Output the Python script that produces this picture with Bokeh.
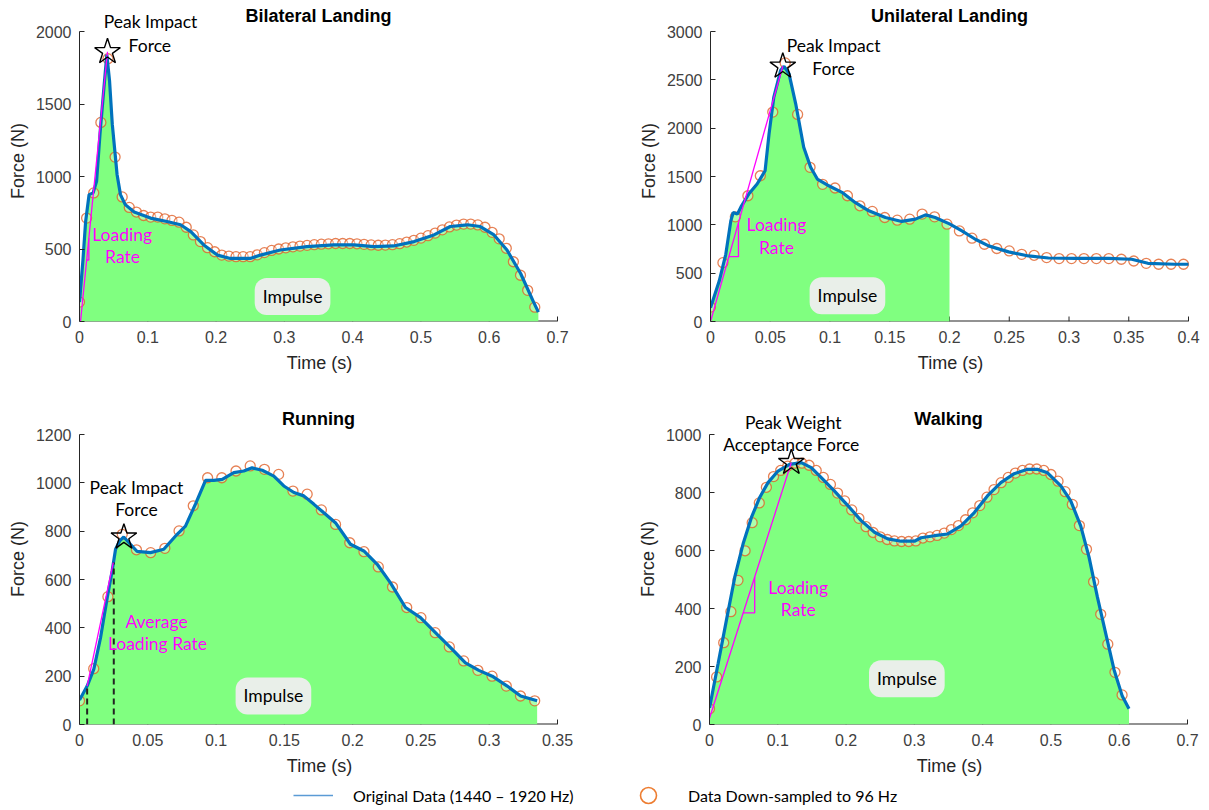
import numpy as np
from bokeh.plotting import figure
from bokeh.models import Range1d, FixedTicker, Label, Legend, LegendItem, PrintfTickFormatter
from bokeh.layouts import column, row
from bokeh.embed import file_html
from bokeh.resources import INLINE

# ---------------- data ----------------
# sample instants of the 96 Hz down-sampled data (s)
sample_times_96hz = [0.0, 0.0104, 0.0208, 0.0313, 0.0417, 0.0521, 0.0625, 0.0729, 0.0833, 0.0938,
                     0.1042, 0.1146, 0.125, 0.1354, 0.1458, 0.1563, 0.1667, 0.1771, 0.1875, 0.1979,
                     0.2083, 0.2188, 0.2292, 0.2396, 0.25, 0.2604, 0.2708, 0.2813, 0.2917, 0.3021,
                     0.3125, 0.3229, 0.3333, 0.3438, 0.3542, 0.3646, 0.375, 0.3854, 0.3958, 0.4063,
                     0.4167, 0.4271, 0.4375, 0.4479, 0.4583, 0.4688, 0.4792, 0.4896, 0.5, 0.5104,
                     0.5208, 0.5313, 0.5417, 0.5521, 0.5625, 0.5729, 0.5833, 0.5938, 0.6042, 0.6146,
                     0.625, 0.6354, 0.6458, 0.6563, 0.6667]

# Bilateral landing
bilateral_time = [0.000, 0.005, 0.009, 0.014, 0.020, 0.025, 0.030, 0.035, 0.040, 0.044,
                  0.048, 0.055, 0.060, 0.067, 0.080, 0.104, 0.128, 0.148, 0.163, 0.182,
                  0.202, 0.221, 0.250, 0.265, 0.294, 0.333, 0.372, 0.402, 0.431, 0.460,
                  0.490, 0.519, 0.543, 0.568, 0.587, 0.607, 0.626, 0.646, 0.665, 0.672]
bilateral_force = [134, 420, 690, 875, 887, 967, 1292, 1569, 1840, 1660,
                   1361, 1014, 875, 806, 755, 713, 690, 667, 620, 528,
                   458, 435, 435, 458, 493, 516, 528, 528, 516, 521,
                   551, 597, 655, 667, 655, 597, 493, 331, 134, 65]
bilateral_samples = [134, 713, 887, 1373, 1812, 1134, 859, 787, 755, 731,
                     720, 720, 708, 697, 685, 650, 597, 551, 509, 481,
                     458, 451, 447, 447, 447, 460, 475, 490, 500, 508,
                     515, 520, 525, 530, 533, 536, 538, 538, 538, 536,
                     532, 528, 526, 527, 530, 537, 548, 560, 575, 592,
                     610, 632, 652, 665, 672, 672, 666, 650, 615, 570,
                     505, 412, 319, 215, 99]

# Unilateral landing
unilateral_time = [0.000, 0.0073, 0.0128, 0.017, 0.019, 0.0225, 0.026, 0.032, 0.039, 0.0457,
                   0.049, 0.053, 0.0587, 0.0615, 0.0657, 0.0713, 0.078, 0.0838, 0.0894, 0.099,
                   0.110, 0.121, 0.1325, 0.1464, 0.160, 0.1715, 0.180, 0.188, 0.200, 0.2104,
                   0.2216, 0.2327, 0.2494, 0.2661, 0.2828, 0.305, 0.333, 0.3524, 0.366, 0.3886,
                   0.400]
unilateral_force = [142, 418, 695, 1041, 1128, 1111, 1197, 1318, 1422, 1560,
                    1941, 2322, 2598, 2640, 2564, 2252, 1803, 1595, 1474, 1404,
                    1336, 1232, 1145, 1076, 1035, 1059, 1103, 1076, 1010, 937,
                    851, 782, 720, 678, 657, 654, 654, 644, 602, 592,
                    592]
unilateral_samples = [149, 609, 1083, 1301, 1508, 2166, 2675, 2142, 1595, 1419,
                      1381, 1301, 1197, 1139, 1076, 1048, 1059, 1111, 1083, 1007,
                      937, 862, 799, 755, 730, 695, 685, 661, 651, 651,
                      651, 651, 651, 644, 626, 602, 592, 592, 592]
unilateral_impulse_end = 0.2

# Running
running_time = [0.000, 0.0056, 0.0105, 0.0154, 0.0203, 0.0239, 0.0264, 0.0295, 0.0324, 0.0361,
                0.0422, 0.052, 0.0617, 0.0715, 0.0776, 0.0849, 0.0923, 0.0984, 0.1045, 0.113,
                0.1203, 0.1264, 0.1338, 0.1423, 0.1496, 0.157, 0.1642, 0.1715, 0.1789, 0.1874,
                0.1984, 0.2082, 0.218, 0.2277, 0.2387, 0.2497, 0.2619, 0.2717, 0.2826, 0.2924,
                0.3022, 0.3132, 0.323, 0.3351]
running_force = [101, 159, 229, 359, 525, 635, 725, 760, 776, 753,
                 716, 711, 725, 787, 821, 912, 1010, 1010, 1014, 1042,
                 1049, 1062, 1052, 1028, 987, 960, 946, 912, 876, 835,
                 746, 718, 663, 586, 484, 442, 373, 318, 255, 224,
                 200, 159, 118, 98]
running_samples = [98, 231, 529, 787, 723, 711, 729, 801, 905, 1021,
                   1021, 1049, 1070, 1056, 1035, 966, 953, 888, 828, 752,
                   715, 652, 569, 484, 442, 380, 321, 263, 224, 200,
                   159, 118, 98]
running_dash_time = [0.0056, 0.0251]
running_dash_force = [159, 670]

# Walking
walking_time = [0.000, 0.0127, 0.0248, 0.037, 0.0492, 0.0614, 0.0735, 0.0857, 0.1003, 0.1173,
                0.1344, 0.149, 0.1637, 0.1831, 0.2026, 0.2221, 0.2416, 0.2611, 0.2806, 0.300,
                0.3098, 0.3293, 0.3488, 0.3683, 0.3878, 0.4073, 0.4267, 0.4462, 0.4657, 0.480,
                0.495, 0.5145, 0.529, 0.5436, 0.5558, 0.568, 0.5802, 0.5924, 0.6046, 0.6143]
walking_force = [57, 211, 360, 508, 623, 714, 783, 834, 874, 897,
                 903, 886, 851, 805, 755, 703, 663, 640, 632, 632,
                 644, 651, 657, 685, 731, 789, 834, 865, 880, 880,
                 868, 823, 771, 685, 577, 440, 314, 189, 97, 54]
walking_samples = [54, 164, 282, 389, 497, 599, 696, 764, 818, 855,
                   876, 891, 901, 901, 894, 876, 852, 828, 798, 771,
                   740, 711, 682, 662, 647, 638, 633, 631, 631, 633,
                   643, 647, 652, 660, 672, 686, 706, 730, 755, 784,
                   810, 834, 852, 867, 876, 881, 881, 876, 862, 839,
                   803, 759, 686, 604, 492, 380, 277, 180, 102]

# axis ticks
ticks_x_07 = [0, 0.1, 0.2, 0.3, 0.4, 0.5, 0.6, 0.7]
ticks_x_04 = [0, 0.05, 0.1, 0.15, 0.2, 0.25, 0.3, 0.35, 0.4]
ticks_x_035 = [0, 0.05, 0.1, 0.15, 0.2, 0.25, 0.3, 0.35]
ticks_y_2000 = [0, 500, 1000, 1500, 2000]
ticks_y_3000 = [0, 500, 1000, 1500, 2000, 2500, 3000]
ticks_y_1200 = [0, 200, 400, 600, 800, 1000, 1200]
ticks_y_1000 = [0, 200, 400, 600, 800, 1000]

# ---------------- style ----------------
BLUE = "#0072BD"
ORANGE = "#E0622A"
GREEN = "#80FF80"
MAGENTA = "#FF00FF"
AX = "#262626"
TICK_FONT = "Liberation Sans"
NOTE_FONT = "Lato"
AXIS_PX = 290      # pixel length of the y axis (0 .. top tick)
XAXIS_PX = 478     # pixel length of the x axis


def make_panel(title, x_end, x_ticks, y_top, y_ticks, width, height, left, frame_px):
    y_end = y_top * frame_px / AXIS_PX          # frame reaches up to the top of the figure
    x_range_end = x_end * (XAXIS_PX + 2) / XAXIS_PX
    bottom = height - frame_px
    right = width - left - (XAXIS_PX + 2)
    p = figure(width=width, height=height, x_range=Range1d(0, x_range_end), y_range=Range1d(0, y_end),
               output_backend="svg", toolbar_location=None,
               min_border_left=left, min_border_right=right,
               min_border_top=0, min_border_bottom=bottom)
    p.outline_line_color = None
    p.grid.visible = False
    p.background_fill_color = "white"
    p.border_fill_color = "white"
    for ax in (p.xaxis[0], p.yaxis[0]):
        ax.major_tick_in = 5
        ax.major_tick_out = 0
        ax.minor_tick_line_color = None
        ax.axis_line_color = AX
        ax.major_tick_line_color = AX
        ax.major_label_text_font = TICK_FONT
        ax.major_label_text_font_size = "16px"
        ax.major_label_text_color = "#404040"
        ax.axis_label_text_font = TICK_FONT
        ax.axis_label_text_font_size = "18px"
        ax.axis_label_text_font_style = "normal"
        ax.axis_label_text_color = AX
        ax.formatter = PrintfTickFormatter(format="%g")
    p.xaxis.ticker = FixedTicker(ticks=x_ticks)
    p.yaxis.ticker = FixedTicker(ticks=y_ticks)
    p.yaxis.bounds = (0, y_top)
    p.xaxis.axis_label = "Time (s)"
    p.yaxis.axis_label = "Force (N)"
    p.xaxis.major_label_standoff = 9
    p.yaxis.major_label_standoff = 8
    p.xaxis.axis_label_standoff = 7
    p.yaxis.axis_label_standoff = 5
    # the bottom axis line and its inward ticks lie beneath the impulse area
    p.xaxis.axis_line_color = None
    p.xaxis.major_tick_line_color = None
    tick_len = 5 * y_end / frame_px
    p.segment(x0=[0], y0=[0], x1=[x_end], y1=[0], line_color=AX, line_width=2)
    p.segment(x0=x_ticks, y0=[0] * len(x_ticks), x1=x_ticks, y1=[tick_len] * len(x_ticks),
              line_color=AX, line_width=1)
    p.add_layout(Label(x=x_end / 2, y=y_top, y_offset=16, text=title, text_align="center",
                       text_baseline="middle", text_font=TICK_FONT, text_font_style="bold",
                       text_font_size="18px", text_color="black"))
    return p


def draw_series(p, t, f, samples, fill_end=None):
    t = np.asarray(t, dtype=float)
    f = np.asarray(f, dtype=float)
    if fill_end is None:
        mask = np.ones_like(t, dtype=bool)
    else:
        mask = t <= fill_end + 1e-9
    p.varea(x=t[mask], y1=np.zeros(mask.sum()), y2=f[mask], fill_color=GREEN, fill_alpha=1.0)
    st = sample_times_96hz[:len(samples)]
    p.scatter(st, samples, marker="circle", size=10, line_color=ORANGE, line_width=1.3,
              line_alpha=0.8, fill_color="white", fill_alpha=0.35)
    p.line(t, f, line_color=BLUE, line_width=3.2)


def note(p, x, y, text, color="black", size="17.5px"):
    p.add_layout(Label(x=x, y=y, text=text, text_align="center", text_baseline="middle",
                       text_font=NOTE_FONT, text_font_size=size, text_color=color))


def impulse(p, x, y):
    p.add_layout(Label(x=x, y=y, text="Impulse", text_align="center", text_baseline="middle",
                       text_font=NOTE_FONT, text_font_size="17.5px", text_color="black",
                       background_fill_color="#eeeeee", background_fill_alpha=0.95,
                       border_line_alpha=0, padding=8, border_radius=12))


def star(p, x, y):
    p.scatter([x], [y], marker="star", size=27, fill_alpha=0, line_color="black", line_width=1.4)


def loading_rate(p, start, peak, f_leg, t_leg):
    (t0, f0), (t1, f1) = start, peak
    slope = (f1 - f0) / (t1 - t0)
    p.line([t0, t1], [f0, f1], line_color=MAGENTA, line_width=1.3)
    ta = t0 + (f_leg - f0) / slope
    fb = f0 + (t_leg - t0) * slope
    p.line([ta, t_leg, t_leg], [f_leg, f_leg, fb], line_color=MAGENTA, line_width=1.3)


p1 = make_panel("Bilateral Landing", 0.7, ticks_x_07, 2000, ticks_y_2000, 604, 393, 79, 321)
draw_series(p1, bilateral_time, bilateral_force, bilateral_samples)
loading_rate(p1, (0.0015, 0), (0.041, 1860), 424, 0.0137)
star(p1, 0.041, 1860)
note(p1, 0.104, 2071, "Peak Impact")
note(p1, 0.103, 1906, "Force")
note(p1, 0.0625, 599, "Loading", MAGENTA)
note(p1, 0.063, 447, "Rate", MAGENTA)
impulse(p1, 0.312, 172)

p2 = make_panel("Unilateral Landing", 0.4, ticks_x_04, 3000, ticks_y_3000, 600, 393, 106, 321)
draw_series(p2, unilateral_time, unilateral_force, unilateral_samples, unilateral_impulse_end)
loading_rate(p2, (0.0, 0), (0.0605, 2640), 671, 0.0234)
star(p2, 0.0605, 2640)
note(p2, 0.103, 2852, "Peak Impact")
note(p2, 0.103, 2614, "Force")
note(p2, 0.0552, 1000, "Loading", MAGENTA)
note(p2, 0.0552, 766, "Rate", MAGENTA)
impulse(p2, 0.1146, 266)

p3 = make_panel("Running", 0.35, ticks_x_035, 1200, ticks_y_1200, 604, 391, 79, 331)
draw_series(p3, running_time, running_force, running_samples)
p3.segment(x0=running_dash_time, y0=[0, 0], x1=running_dash_time, y1=running_dash_force,
           line_color="#222222", line_width=2, line_dash="6 4")
p3.line([running_dash_time[0], 0.0247], [running_dash_force[0], running_dash_force[1]],
        line_color=MAGENTA, line_width=1.3)
star(p3, 0.0325, 775)
note(p3, 0.0417, 979, "Peak Impact")
note(p3, 0.0417, 888, "Force")
note(p3, 0.0564, 425, "Average", MAGENTA)
note(p3, 0.0571, 334, "Loading Rate", MAGENTA)
impulse(p3, 0.142, 118)

p4 = make_panel("Walking", 0.7, ticks_x_07, 1000, ticks_y_1000, 600, 391, 105, 331)
draw_series(p4, walking_time, walking_force, walking_samples)
loading_rate(p4, (-0.005, -15), (0.1198, 903), 385, 0.0662)
star(p4, 0.1198, 903)
note(p4, 0.1228, 1042, "Peak Weight")
note(p4, 0.1198, 967, "Acceptance Force")
note(p4, 0.130, 473, "Loading", MAGENTA)
note(p4, 0.130, 398, "Rate", MAGENTA)
impulse(p4, 0.289, 158)

# legend strip
lg = figure(width=1204, height=24, x_range=Range1d(0, 1), y_range=Range1d(0, 1),
            output_backend="svg", toolbar_location=None, min_border=0,
            x_axis_location=None, y_axis_location=None)
lg.grid.visible = False
lg.outline_line_color = None
r_line = lg.line([5, 6], [5, 6], line_color="#5B9BD5", line_width=1.5)
r_circ = lg.scatter([5], [5], marker="circle", size=16, line_color="#ED7D31",
                    fill_color="white", line_width=1.6)
legend = Legend(items=[LegendItem(label="Original Data (1440 \u2013 1920 Hz)", renderers=[r_line]),
                       LegendItem(label="Data Down-sampled to 96 Hz", renderers=[r_circ])],
                orientation="horizontal", location=(293, -7), glyph_width=40, glyph_height=40,
                label_standoff=20, label_width=240, spacing=35, padding=0, margin=0,
                border_line_alpha=0, background_fill_alpha=0,
                label_text_font=NOTE_FONT, label_text_font_size="16px", label_text_color="black")
lg.add_layout(legend)

layout = column(row(p1, p2), row(p3, p4), lg)
open("out.html", "w").write(file_html(layout, INLINE))
